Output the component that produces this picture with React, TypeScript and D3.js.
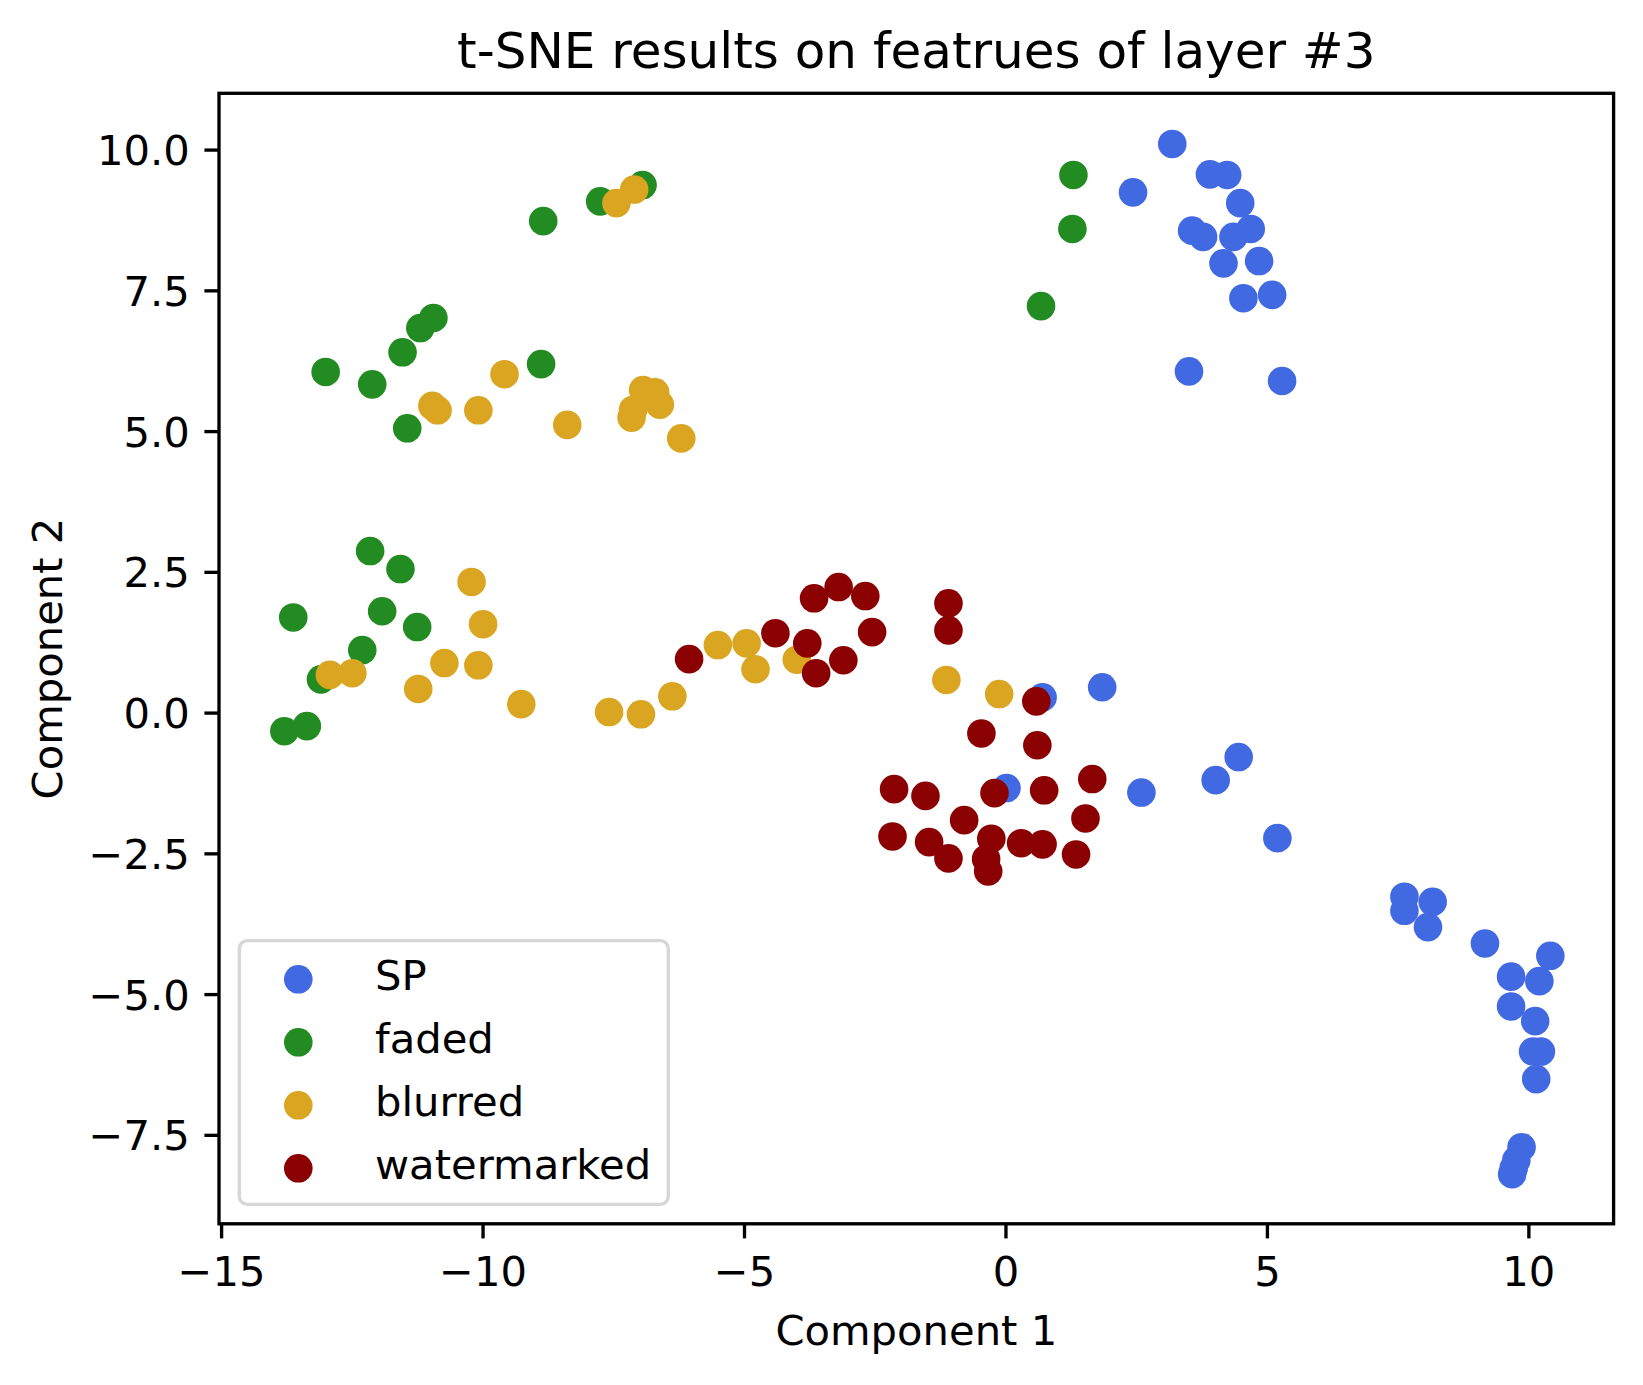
import * as d3 from 'd3';
import React, { useRef, useEffect } from 'react';

// t-SNE coordinates, one list per class
const spPoints = [
    [3.19, 10.10], [2.44, 9.24], [3.91, 9.56], [4.24, 9.55], [4.49, 9.05],
    [4.69, 8.59], [3.57, 8.56], [3.78, 8.45], [4.36, 8.45], [4.17, 7.98],
    [4.85, 8.02], [4.55, 7.36], [5.10, 7.42], [3.51, 6.06], [5.29, 5.89],
    [0.71, 0.27], [1.85, 0.45], [0.02, -1.34],
    [2.60, -1.42], [4.02, -1.20], [4.46, -0.79], [5.20, -2.23],
    [7.63, -3.27], [7.63, -3.52], [8.17, -3.36], [8.08, -3.81], [9.17, -4.10],
    [10.42, -4.32], [9.67, -4.69], [10.21, -4.77], [9.67, -5.22], [10.13, -5.48],
    [10.09, -6.02], [10.24, -6.02], [10.15, -6.51], [9.87, -7.72], [9.77, -7.95],
    [9.72, -8.09], [9.69, -8.20]
];
const fadedPoints = [
    [-6.94, 9.37], [-7.75, 9.08], [-8.84, 8.73], [-10.94, 7.01], [-11.19, 6.83],
    [-11.53, 6.40], [-13.00, 6.05], [-12.11, 5.83], [-8.88, 6.19], [-11.44, 5.05],
    [1.30, 9.55], [1.28, 8.59], [0.68, 7.22],
    [-12.15, 2.87], [-11.57, 2.55], [-13.62, 1.69], [-11.92, 1.80], [-11.25, 1.52],
    [-12.30, 1.11], [-13.09, 0.59], [-13.79, -0.33], [-13.36, -0.24]
];
const blurredPoints = [
    [-7.10, 9.29], [-7.44, 9.05], [-9.58, 6.01], [-10.96, 5.45], [-10.86, 5.37],
    [-10.08, 5.37], [-8.38, 5.11], [-6.93, 5.73], [-6.70, 5.69], [-6.61, 5.47],
    [-7.12, 5.38], [-7.15, 5.24], [-6.20, 4.87],
    [-10.21, 2.32], [-9.99, 1.57], [-12.92, 0.67], [-12.49, 0.70], [-10.73, 0.88],
    [-10.08, 0.84], [-11.23, 0.42], [-9.26, 0.15], [-7.58, 0.01], [-6.97, -0.03],
    [-6.37, 0.29],
    [-5.50, 1.20], [-4.95, 1.23], [-4.78, 0.77], [-3.99, 0.94], [-1.13, 0.58],
    [-0.12, 0.33]
];
const watermarkedPoints = [
    [-6.05, 0.95], [-4.40, 1.41], [-3.66, 2.03], [-3.19, 2.23], [-2.68, 2.07],
    [-2.55, 1.43], [-3.79, 1.23], [-3.10, 0.93], [-3.62, 0.70], [-1.09, 1.94],
    [-1.09, 1.46], [0.59, 0.20], [-0.46, -0.37], [0.61, -0.58], [-2.13, -1.36],
    [-1.53, -1.48], [-0.21, -1.43], [0.74, -1.38], [1.66, -1.18], [-0.79, -1.91],
    [1.53, -1.88], [-2.16, -2.20], [-1.46, -2.30], [-1.09, -2.59], [-0.27, -2.24],
    [0.30, -2.32], [0.71, -2.34], [1.35, -2.52], [-0.37, -2.60], [-0.33, -2.82]
];

const labels = ['SP', 'faded', 'blurred', 'watermarked'];
const colors = ['#4169E1', '#228B22', '#DAA520', '#8B0000'];
const xTicks = [-15, -10, -5, 0, 5, 10];
const yTicks = [-7.5, -5, -2.5, 0, 2.5, 5, 7.5, 10];

const width = 1643, height = 1385;
const font = 'DejaVu Sans';

function ScatterPlot() {
    const ref = useRef();

    useEffect(() => {
        const svg = d3.select(ref.current);
        svg.selectAll('*').remove();

        const left = 219, right = 1613.6, top = 93.3, bottom = 1223.8;
        const lw = 3.33, tickLen = 14.6, pad = 14.6, r = 14.3;

        const x = d3.scaleLinear().domain([-15.04, 11.63]).range([left, right]);
        const y = d3.scaleLinear().domain([-9.08, 11.0]).range([bottom, top]);
        const minus = s => s.replace('-', '\u2212');

        svg.append('rect').attr('width', width).attr('height', height).attr('fill', '#fff');

        // points, in plotting order
        const series = [spPoints, fadedPoints, blurredPoints, watermarkedPoints];
        series.forEach((pts, i) => {
            svg.append('g').selectAll('circle')
                .data(pts)
                .enter().append('circle')
                .attr('cx', d => x(d[0]))
                .attr('cy', d => y(d[1]))
                .attr('r', r)
                .attr('fill', colors[i]);
        });

        // frame
        svg.append('rect')
            .attr('x', left).attr('y', top)
            .attr('width', right - left).attr('height', bottom - top)
            .attr('fill', 'none').attr('stroke', '#000').attr('stroke-width', lw);

        // x axis
        const xAxis = d3.axisBottom(x).tickValues(xTicks).tickSize(tickLen).tickPadding(pad)
            .tickFormat(d => minus(d3.format('d')(d)));
        const gx = svg.append('g').attr('transform', `translate(0,${bottom})`).call(xAxis);
        gx.select('.domain').remove();
        gx.selectAll('line').attr('stroke-width', lw);
        gx.selectAll('text').attr('font-family', font).attr('font-size', 41.7)
            .attr('fill', '#000').attr('dy', '0.8em');

        // y axis
        const yAxis = d3.axisLeft(y).tickValues(yTicks).tickSize(tickLen).tickPadding(pad)
            .tickFormat(d => minus(d3.format('.1f')(d)));
        const gy = svg.append('g').attr('transform', `translate(${left},0)`).call(yAxis);
        gy.select('.domain').remove();
        gy.selectAll('line').attr('stroke-width', lw);
        gy.selectAll('text').attr('font-family', font).attr('font-size', 41.7)
            .attr('fill', '#000').attr('dy', '0.36em');

        // title and labels
        svg.append('text')
            .attr('x', (left + right) / 2).attr('y', 68.3)
            .attr('text-anchor', 'middle')
            .attr('font-family', font).attr('font-size', 50)
            .text('t-SNE results on featrues of layer #3');

        svg.append('text')
            .attr('x', (left + right) / 2).attr('y', 1345)
            .attr('text-anchor', 'middle')
            .attr('font-family', font).attr('font-size', 41.7)
            .text('Component 1');

        svg.append('text')
            .attr('transform', `translate(61.7,${(top + bottom) / 2}) rotate(-90)`)
            .attr('text-anchor', 'middle')
            .attr('font-family', font).attr('font-size', 41.7)
            .text('Component 2');

        // legend
        const legend = svg.append('g');
        legend.append('rect')
            .attr('x', 239.3).attr('y', 940.7)
            .attr('width', 429).attr('height', 263.6)
            .attr('rx', 8)
            .attr('fill', '#fff').attr('fill-opacity', 0.8)
            .attr('stroke', '#d6d6d6').attr('stroke-width', lw);
        labels.forEach((lab, i) => {
            const cy = 979.3 + i * 63;
            legend.append('circle').attr('cx', 298.3).attr('cy', cy).attr('r', r).attr('fill', colors[i]);
            legend.append('text')
                .attr('x', 375).attr('y', cy + 11)
                .attr('font-family', font).attr('font-size', 41.7)
                .text(lab);
        });
    }, []);

    return (
        <svg ref={ref} width={width} height={height}
            style={{ position: 'absolute', left: 0, top: 0, display: 'block' }}></svg>
    );
}

export default function App() {
    return <ScatterPlot />;
}
